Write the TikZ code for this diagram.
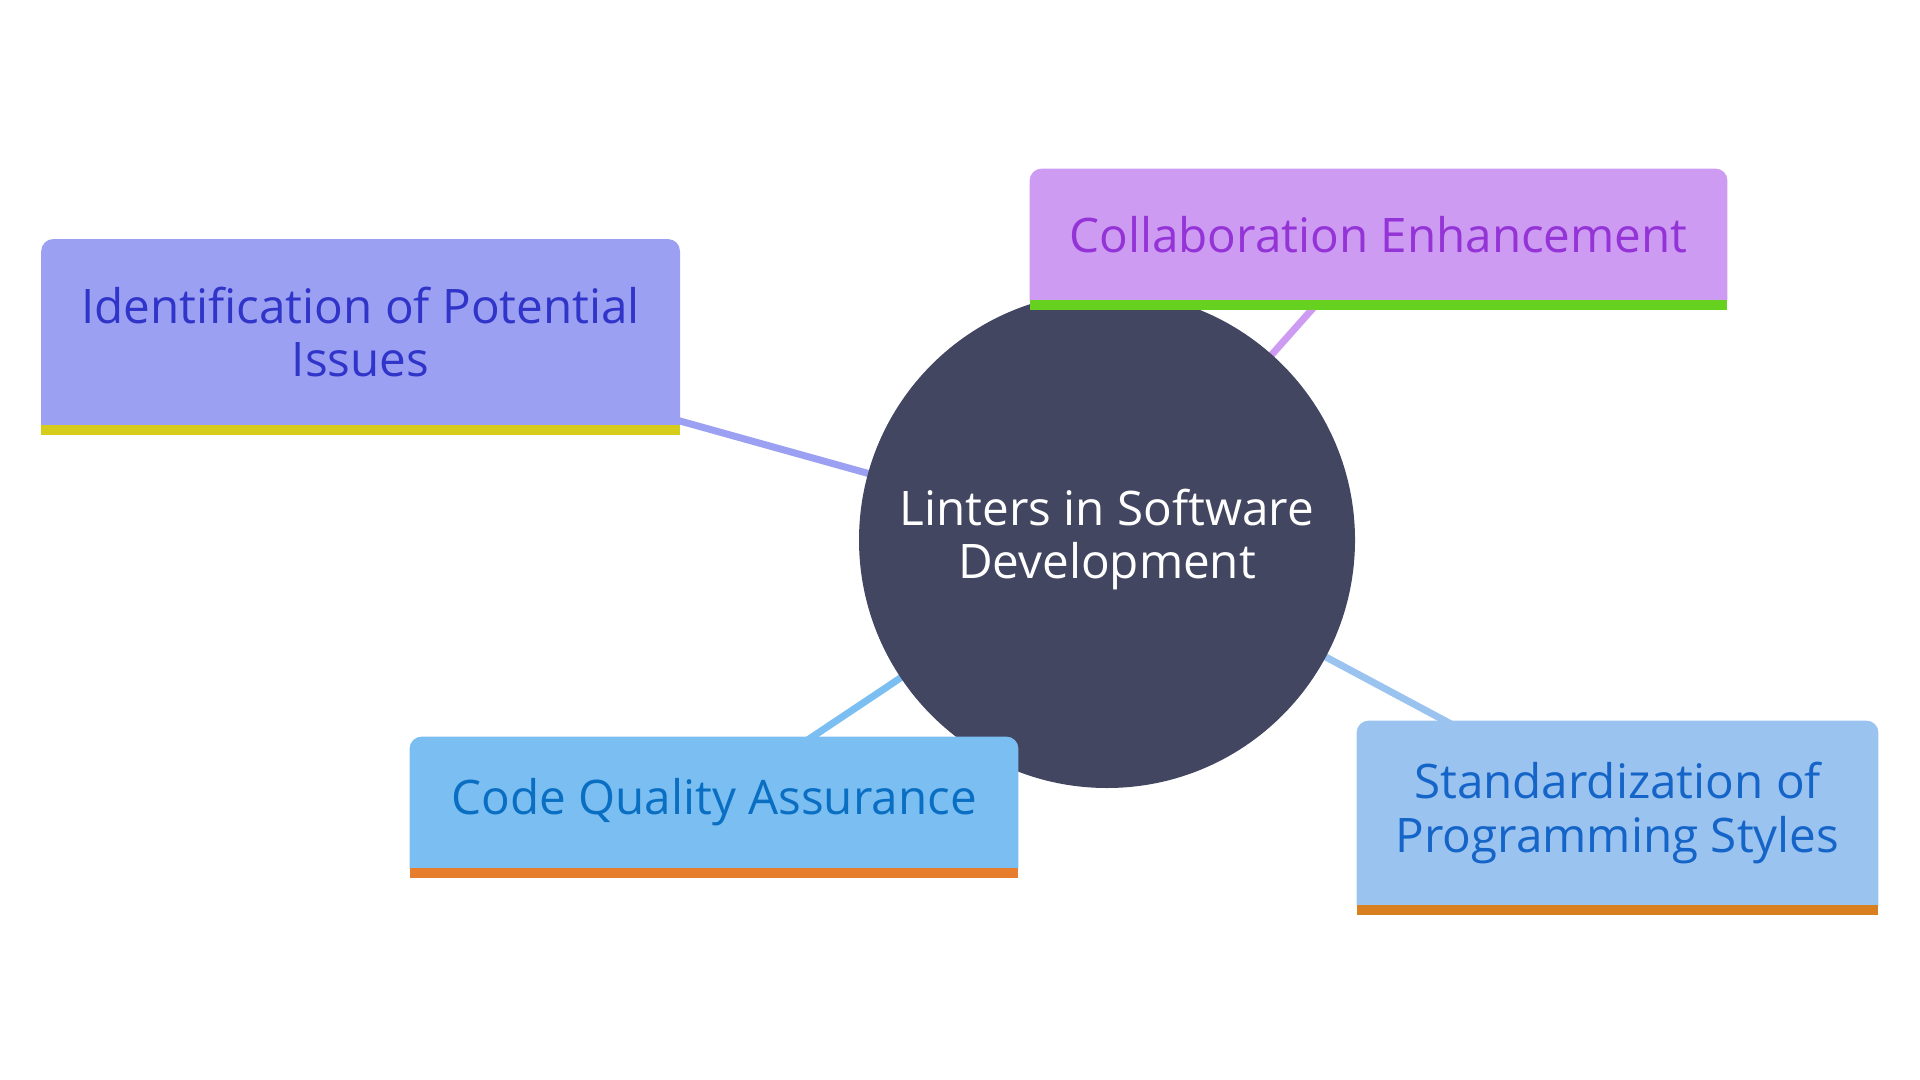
\documentclass[tikz,border=0pt]{standalone}
\usepackage{fontspec}
\setmainfont{Open Sans}
\definecolor{hub}{HTML}{424660}
\definecolor{fillA}{HTML}{9BA0F2}
\definecolor{textA}{HTML}{3034C8}
\definecolor{barA}{HTML}{D6CC1C}
\definecolor{fillB}{HTML}{CD9BF2}
\definecolor{textB}{HTML}{9433D6}
\definecolor{barB}{HTML}{66D11E}
\definecolor{fillC}{HTML}{7BBFF2}
\definecolor{textC}{HTML}{0A6FC2}
\definecolor{barC}{HTML}{E67E2E}
\definecolor{fillD}{HTML}{9BC3F0}
\definecolor{textD}{HTML}{1565C8}
\definecolor{barD}{HTML}{D88020}
\tikzset{
  boxframe/.style={rectangle, inner sep=0pt},
  boxtext/.style={inner sep=0pt, align=center, font=\fontsize{23.8}{26.5}\selectfont},
  hubnode/.style={circle, fill=hub, inner sep=0pt, minimum size=248pt, align=center,
    text=white, font=\fontsize{23.8}{26.5}\selectfont},
  link/.style={line width=3.5pt}
}
\newcommand{\topbox}[3]{% name, fill colour, bar colour
  \fill[#2] (#1.south) -- (#1.south west) [rounded corners=6pt] -- (#1.north west)
    -- (#1.north east) [sharp corners] -- (#1.south east) -- cycle;
  \fill[#3] ([yshift=-5pt]#1.south west) rectangle (#1.south east);
}
\begin{document}
\begin{tikzpicture}[x=0.5pt,y=-0.5pt]
\useasboundingbox (0,0) rectangle (1920,1080);
% placement points
\coordinate (pA) at (360.6,332);
\coordinate (pB) at (1378.5,234.5);
\coordinate (pC) at (714,802.5);
\coordinate (pD) at (1617.5,813);
\coordinate (pH) at (1107,540);
% connectors
\draw[link, fillA] (pH) -- (pA);
\draw[link, fillB] (pH) -- (pB);
\draw[link, fillC] (pH) -- (pC);
\draw[link, fillD] (pH) -- (pD);
% hub
\node[hubnode] (hub) at (pH) {Linters in Software\\Development};
% boxes
\node[boxframe, minimum width=319pt, minimum height=92.5pt] (A) at (pA) {};
\topbox{A}{fillA}{barA}
\node[boxtext, text=textA] (Atext) at (A.center) {Identification of Potential\\Issues};
\node[boxframe, minimum width=348.5pt, minimum height=65.5pt] (B) at (pB) {};
\topbox{B}{fillB}{barB}
\node[boxtext, text=textB] (Btext) at (B.center) {Collaboration Enhancement};
\node[boxframe, minimum width=304pt, minimum height=65.5pt] (C) at (pC) {};
\topbox{C}{fillC}{barC}
\node[boxtext, text=textC] (Ctext) at (C.center) {Code Quality Assurance};
\node[boxframe, minimum width=260.5pt, minimum height=92pt] (D) at (pD) {};
\topbox{D}{fillD}{barD}
\node[boxtext, text=textD] (Dtext) at (D.center) {Standardization of\\Programming Styles};
\end{tikzpicture}
\end{document}
